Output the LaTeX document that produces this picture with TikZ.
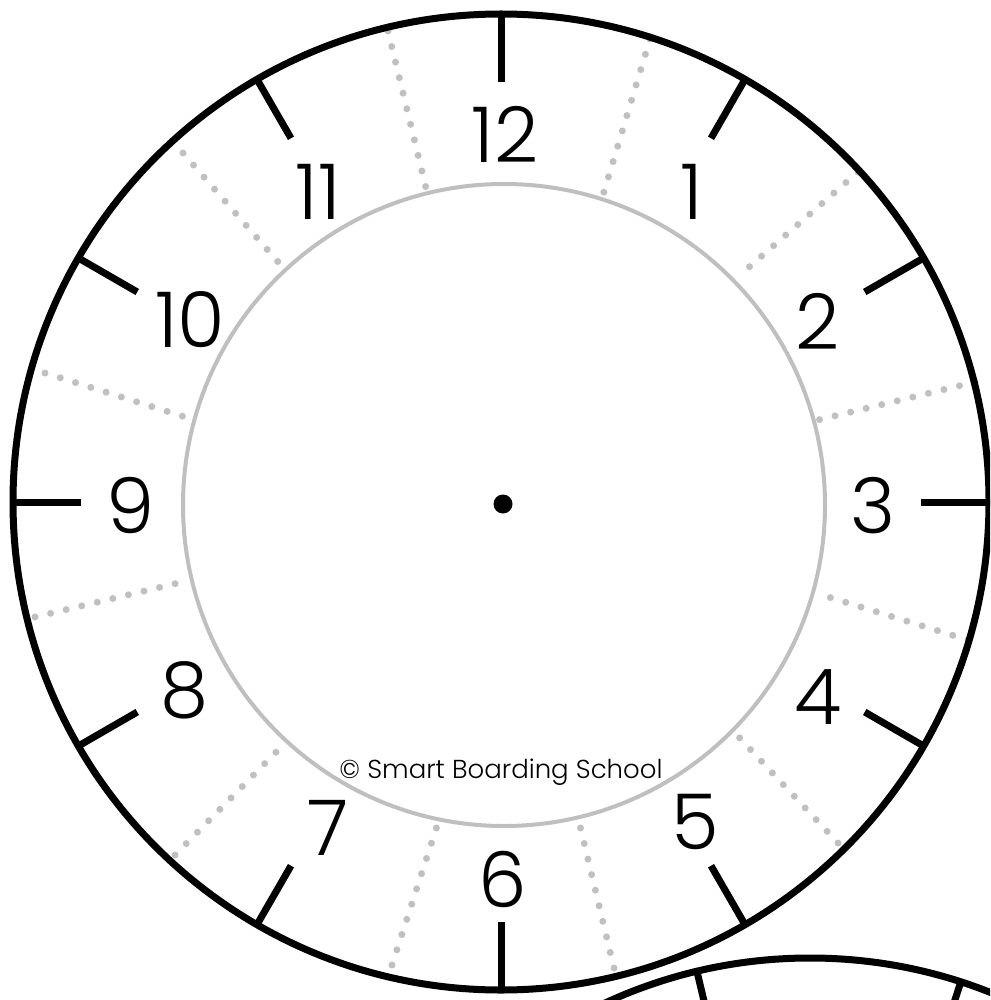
\documentclass[tikz,border=0pt]{standalone}
\usepackage{fontspec}
\setmainfont{Poppins}[UprightFont=* Light]
\definecolor{dotgray}{HTML}{C0C0C0}
\definecolor{ringgray}{HTML}{BFBFBF}
\begin{document}
\begin{tikzpicture}[x=1pt,y=-1pt,
  rim/.style={line width=7pt},
  hourtick/.style={line width=7pt},
  halfline/.style={dotgray, line width=7pt, line cap=round, dash pattern=on 0pt off 16pt},
  innerring/.style={ringgray, line width=4pt},
  numeral/.style={inner sep=0pt, anchor=base, font=\fontsize{77}{77}\selectfont},
  credit/.style={inner sep=0pt, anchor=base, font=\fontsize{26}{26}\selectfont},
]
\useasboundingbox (0,0) rectangle (990,1000);
\coordinate (O) at (501,502);
\coordinate (I) at (504,505);
\coordinate (D) at (503,504);
\begin{scope}
\clip (0,0) rectangle (990,1000);
% partial second clock, bottom right
\coordinate (O2) at (810,1446);
\draw[rim] (O2) circle[radius=488pt];
\draw[hourtick, shift={(O2)}] (103.4:490pt) -- (103.4:400pt);
\draw[hourtick, shift={(O2)}] (72:490pt) -- (72:400pt);
% half-hour dotted guides
\draw[halfline] (388,31) -- (426,188);
\draw[halfline] (650,39) -- (603,195);
\draw[halfline] (858,172) -- (748,268);
\draw[halfline] (975,382) -- (818,420);
\draw[halfline] (968,640) -- (822,595);
\draw[halfline] (838,843) -- (735,733);
\draw[halfline] (614,968) -- (580,826);
\draw[halfline] (392,965) -- (437,826);
\draw[halfline] (175,855) -- (283,745);
\draw[halfline] (35,617) -- (178,583);
\draw[halfline] (45,373) -- (185,417);
\draw[halfline] (183,153) -- (279,263);
% rings
\draw[innerring] (I) circle[radius=321pt];
\draw[rim, fill=none] (O) circle[radius=488pt];
% hour ticks
\foreach \a in {0,30,...,330}
  \draw[hourtick, shift={(O)}] (\a:490pt) -- (\a:420pt);
\end{scope}
\fill (D) circle[radius=9.5pt];
% numerals
\node[numeral] (n12) at (505,163) {12};
\node[numeral] (n1) at (692,219) {1};
\node[numeral] (n2) at (818,349) {2};
\node[numeral] (n3) at (873,533) {3};
\node[numeral] (n4) at (818,724) {4};
\node[numeral] (n5) at (695,849) {5};
\node[numeral] (n6) at (503,907) {6};
\node[numeral] (n7) at (328,855) {7};
\node[numeral] (n8) at (185,717) {8};
\node[numeral] (n9) at (131,533) {9};
\node[numeral] (n10) at (190,347) {10};
\node[numeral] (n11) at (318,219) {11};
\node[credit] (copy) at (501,778) {© Smart Boarding School};
\end{tikzpicture}
\end{document}
